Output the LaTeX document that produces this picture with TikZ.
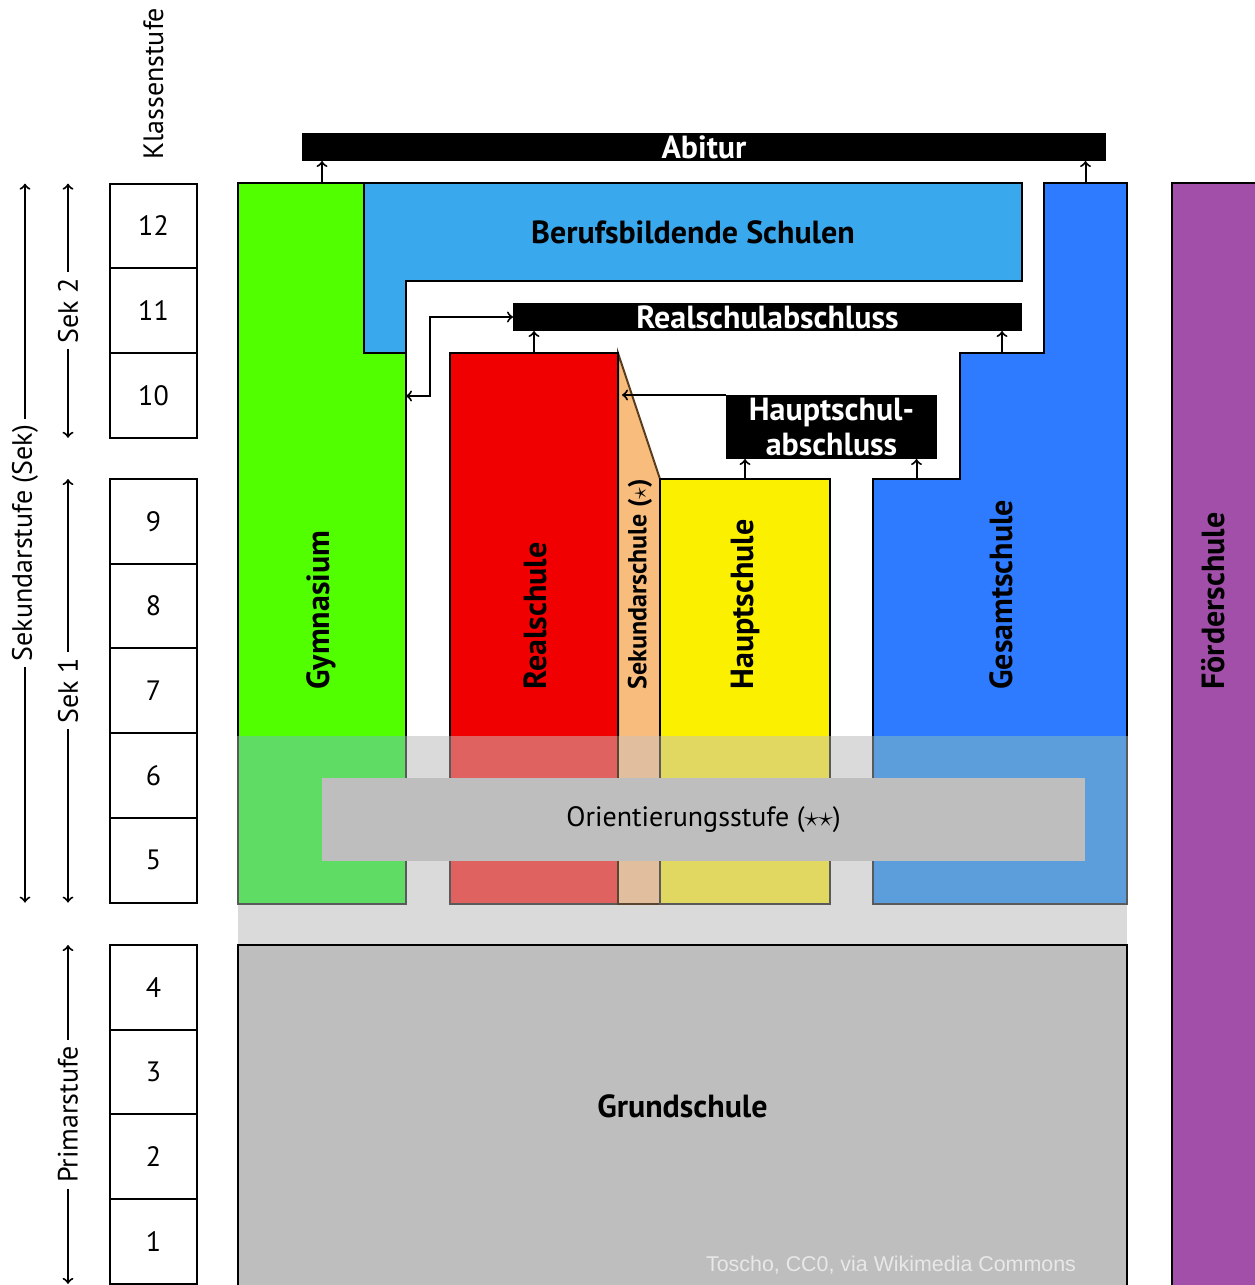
\documentclass[tikz,border=0pt]{standalone}
\usepackage{fontspec}
\setmainfont{PT Sans}
\newfontfamily\creditfont{Liberation Sans}
\usepackage{xcolor}
\usepackage{tikz}
\usetikzlibrary{arrows}
\usetikzlibrary{positioning}
\usetikzlibrary{fit}

\definecolor{gymgreen}{RGB}{82,255,0}
\definecolor{bbsblue}{RGB}{58,168,236}
\definecolor{realred}{RGB}{240,0,0}
\definecolor{sekorange}{RGB}{248,188,124}
\definecolor{hauptyellow}{RGB}{250,240,0}
\definecolor{gesblue}{RGB}{47,123,255}
\definecolor{foerderpurple}{RGB}{162,79,170}
\definecolor{grundgray}{RGB}{190,190,190}
\definecolor{bandgray}{RGB}{218,218,218}
\definecolor{gymmuted}{RGB}{94,220,100}
\definecolor{realmuted}{RGB}{224,98,96}
\definecolor{sekmuted}{RGB}{224,190,158}
\definecolor{hauptmuted}{RGB}{224,216,96}
\definecolor{gesmuted}{RGB}{92,158,220}
\definecolor{bandline}{RGB}{90,90,90}
\definecolor{sekline}{RGB}{90,60,30}
\definecolor{creditgray}{RGB}{232,232,232}

\begin{document}
\begin{tikzpicture}[x=0.5pt, y=-0.5pt, node distance=0pt, >=to]
    \tikzstyle{grade}=[draw, line width=1pt, minimum width=43.5pt, minimum height=42.35pt,
      inner sep=0, outer sep=0, font=\fontsize{14}{16}\selectfont]
    \tikzstyle{school}=[draw, line width=1pt, inner sep=0, outer sep=0]
    \tikzstyle{degree}=[fill=black, inner sep=0, outer sep=0]
    \tikzstyle{title}=[inner sep=0, font=\bfseries\fontsize{16}{17.5}\selectfont]
    \tikzstyle{vlabel}=[title, rotate=90, anchor=west]
    \tikzstyle{span}=[<->, line width=1pt]
    \tikzstyle{spanlabel}=[fill=white, rotate=90, inner sep=3pt, font=\fontsize{14}{16}\selectfont]
    \tikzstyle{up}=[->, line width=1pt]
    \tikzstyle{faded}=[draw=bandline, line width=1pt]
    \useasboundingbox (0,0) rectangle (1254,1285);

    % Klassenstufen
    \node[rotate=90, anchor=west, inner sep=0, font=\fontsize{14}{16}\selectfont] (klasse) at (153.5,160) {Klassenstufe};
    \node[grade] (g12) at (153.5,226) {12};
    \node[grade, below=of g12] (g11) {11};
    \node[grade, below=of g11] (g10) {10};
    \node[grade] (g9) at (153.5,521.4) {9};
    \node[grade, below=of g9] (g8) {8};
    \node[grade, below=of g8] (g7) {7};
    \node[grade, below=of g7] (g6) {6};
    \node[grade, below=of g6] (g5) {5};
    \node[grade] (g4) at (153.5,987.4) {4};
    \node[grade, below=of g4] (g3) {3};
    \node[grade, below=of g3] (g2) {2};
    \node[grade, below=of g2] (g1) {1};

    \coordinate (outer) at (25,0);
    \coordinate (inner) at (68,0);
    \draw[span] (g12.north -| outer) -- node[spanlabel] {Sekundarstufe (Sek)} (g5.south -| outer);
    \draw[span] (g12.north -| inner) -- node[spanlabel] {Sek 2} (g10.south -| inner);
    \draw[span] (g9.north -| inner) -- node[spanlabel] {Sek 1} (g5.south -| inner);
    \draw[span] (g4.north -| inner) -- node[spanlabel] {Primarstufe} (g1.south -| inner);

    % Schulformen
    \node[school, fill=gymgreen, fit={(238,183) (406,904)}] (gym) {};
    \draw[school, fill=bbsblue] (364,183) -- (1022,183) -- (1022,281) -- (406,281)
      -- (406,353) -- (364,353) -- cycle;
    \node[title] (bbs) at (693,232) {Berufsbildende Schulen};
    \draw[school, draw=sekline, fill=sekorange]
      (618,353) -- (660,479) -- (660,904) -- (618,904) -- cycle;
    \node[school, fill=realred, fit={(450,353) (618,904)}] (real) {};
    \node[school, fill=hauptyellow, fit={(660,479) (830,904)}] (haupt) {};
    \draw[school, fill=gesblue] (1044,183) -- (1127,183) -- (1127,904) -- (873,904)
      -- (873,479) -- (960,479) -- (960,353) -- (1044,353) -- cycle;
    \coordinate (gestop) at (1085.5,183);
    \coordinate (gesmid) at (1002,353);
    \coordinate (geslow) at (916.5,479);
    \node[school, fill=foerderpurple, fit={(1172,183) (1260,1292)}] (foerder) {};

    % Band der Klassen 5 und 6
    \begin{scope}
      \clip (236,736) rectangle (1129,945);
      \fill[bandgray] (238,736) rectangle (1127,945);
      \draw[faded, fill=gymmuted] (gym.north west) rectangle (gym.south east);
      \draw[faded, fill=realmuted] (real.north west) rectangle (real.south east);
      \draw[faded, draw=sekline!70!bandline, fill=sekmuted] (real.north east) rectangle (haupt.south west);
      \draw[faded, fill=hauptmuted] (haupt.north west) rectangle (haupt.south east);
      \draw[faded, fill=gesmuted] (geslow -| 873,0) rectangle (1127,904);
    \end{scope}

    \node[vlabel] (gymlabel) at (321,690) {Gymnasium};
    \node[vlabel] (reallabel) at (535,690) {Realschule};
    \node[vlabel, font=\bfseries\fontsize{13}{14}\selectfont] (seklabel) at (640,690) {Sekundarschule ($\star$)};
    \node[vlabel] (hauptlabel) at (745,690) {Hauptschule};
    \node[vlabel] (geslabel) at (1001,690) {Gesamtschule};
    \node[vlabel] (foerderlabel) at (1213,690) {Förderschule};

    % Abschluesse
    \node[degree, fit={(302,133) (1106,161)}] (abi) {};
    \node[title, text=white] (abitext) at (abi.center) {Abitur};
    \node[degree, fit={(513,303) (1022,331)}] (rsa) {};
    \node[title, text=white] (rsatext) at (rsa.center) {Realschulabschluss};
    \node[degree, fit={(726,395) (937,459)}] (hsa) {};
    \node[title, text=white, align=center] (hsatext) at (hsa.center) {Hauptschul-\\abschluss};

    \draw[up] (gym.north) -- (gym.north |- abi.south);
    \draw[up] (gestop) -- (gestop |- abi.south);
    \draw[up] (real.north) -- (real.north |- rsa.south);
    \draw[up] (gesmid) -- (gesmid |- rsa.south);
    \draw[up] (haupt.north) -- (haupt.north |- hsa.south);
    \draw[up] (geslow) -- (geslow |- hsa.south);
    \coordinate (bend) at (430,396);
    \draw[<->, line width=1pt] (rsa.west) -| (bend) -- (bend -| gym.east);
    \draw[up] (hsa.north west) -- ([xshift=2pt]hsa.north west -| real.east);

    % Orientierungsstufe und Grundschule
    \node[school, fill=grundgray, fit={(238,945) (1127,1292)}] (grund) {};
    \node[title, yshift=6pt] (grundlabel) at (grund.center) {Grundschule};
    \node[fill=grundgray, inner sep=0, fit={(322,778) (1085,861)}] (orient) {};
    \node[inner sep=0, font=\fontsize{14}{16}\selectfont] (orienttext) at (orient.center) {Orientierungsstufe ($\star\star$)};

    \node[text=creditgray, font=\creditfont\fontsize{10.7}{12}\selectfont] (credit) at (891,1265) {Toscho, CC0, via Wikimedia Commons};
\end{tikzpicture}
\end{document}
